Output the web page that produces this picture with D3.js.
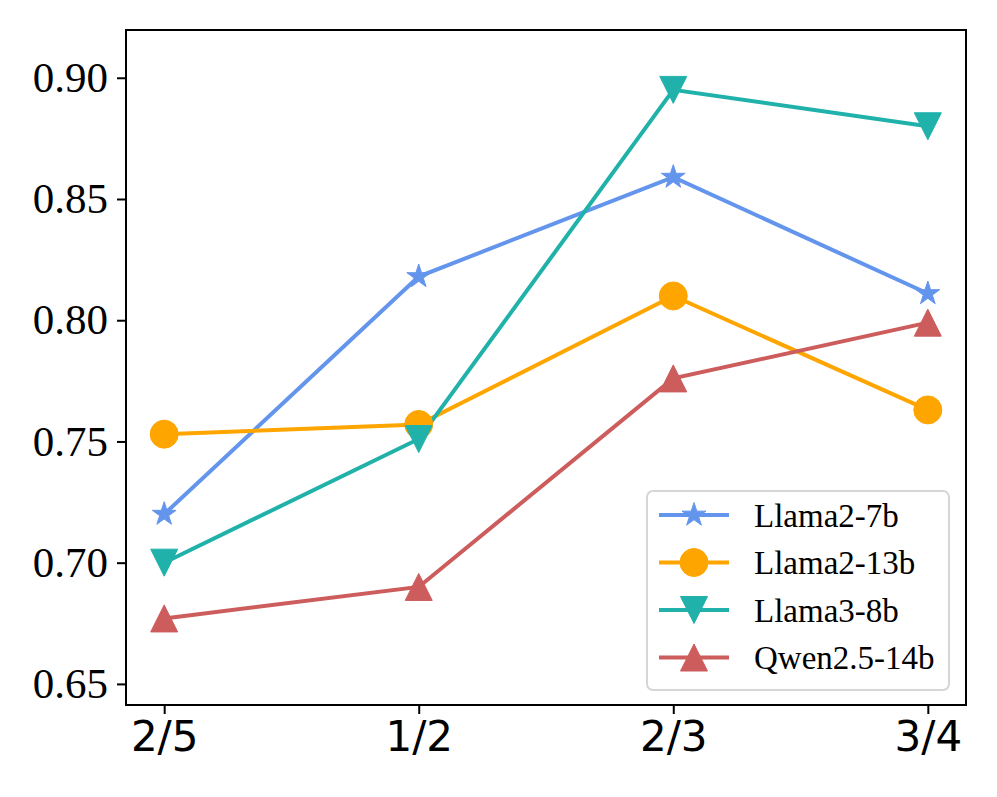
<!DOCTYPE html>
<html>
<head>
<meta charset="utf-8">
<script src="https://cdn.jsdelivr.net/npm/d3@7"></script>
<style>
  body { margin: 0; background: #fff; }
  svg { display: block; }
</style>
</head>
<body>
<svg id="chart" width="997" height="797"></svg>
<script>
// data
const categories = ["2/5", "1/2", "2/3", "3/4"]
const seriesNames = ["Llama2-7b", "Llama2-13b", "Llama3-8b", "Qwen2.5-14b"]
const llama2_7b = [0.720, 0.818, 0.859, 0.811]
const llama2_13b = [0.753, 0.757, 0.810, 0.763]
const llama3_8b = [0.700, 0.751, 0.895, 0.880]
const qwen25_14b = [0.677, 0.690, 0.776, 0.799]
const yTicks = [0.65, 0.70, 0.75, 0.80, 0.85, 0.90]

const colors = ["#6495ED", "#FFA500", "#20B2AA", "#CD5C5C"]
const markers = ["star", "circle", "triDown", "triUp"]
const values = [llama2_7b, llama2_13b, llama3_8b, qwen25_14b]

const series = seriesNames.map((name, i) => ({
    name: name,
    color: colors[i],
    marker: markers[i],
    values: values[i].map((v, j) => ({ key: categories[j], value: v }))
}))

const plot = { left: 126, right: 966, top: 30, bottom: 705 }

const svg = d3.select("#chart")

const xScale = d3.scalePoint()
    .domain(categories)
    .range([plot.left, plot.right])
    .padding(0.15)

const yScale = d3.scaleLinear()
    .domain([0.6413, 0.9197])
    .range([plot.bottom, plot.top])

// marker shapes, roughly matplotlib sized
function markerPath(type) {
    if (type === "circle") {
        return d3.symbol().type(d3.symbolCircle).size(Math.PI * 14 * 14)()
    }
    if (type === "star") {
        let R = 12.5, r = R * 0.382, pts = []
        for (let k = 0; k < 10; k++) {
            let rad = k % 2 === 0 ? R : r
            let a = -Math.PI / 2 + k * Math.PI / 5
            pts.push([rad * Math.cos(a), rad * Math.sin(a)])
        }
        return "M" + pts.map(p => p.join(",")).join("L") + "Z"
    }
    let h = 13.5
    if (type === "triUp") return `M0,${-h}L${h},${h}L${-h},${h}Z`
    return `M0,${h}L${h},${-h}L${-h},${-h}Z`
}

// y axis
const yAxis = svg.append("g")
    .attr("transform", "translate(" + plot.left + ",0)")
    .call(d3.axisLeft(yScale).tickValues(yTicks).tickFormat(d3.format(".2f")).tickSize(9).tickPadding(9))
yAxis.select(".domain").remove()
yAxis.selectAll("line").attr("stroke", "#000").attr("stroke-width", 2)
yAxis.selectAll("text")
    .attr("font-family", "'Liberation Serif', 'Times New Roman', serif")
    .attr("font-size", 43)
    .attr("fill", "#000")

// x axis
const xAxis = svg.append("g")
    .attr("transform", "translate(0," + plot.bottom + ")")
    .call(d3.axisBottom(xScale).tickSize(9).tickPadding(7))
xAxis.select(".domain").remove()
xAxis.selectAll("line").attr("stroke", "#000").attr("stroke-width", 2)
xAxis.selectAll("text")
    .attr("font-family", "'DejaVu Sans', sans-serif")
    .attr("font-size", 42)
    .attr("fill", "#000")

// lines
const lineGenerator = d3.line()
    .x(d => xScale(d.key))
    .y(d => yScale(d.value))

series.forEach(s => {
    svg.append("path")
        .attr("d", lineGenerator(s.values))
        .attr("fill", "none")
        .attr("stroke", s.color)
        .attr("stroke-width", 4)
})

// markers on top
series.forEach(s => {
    svg.selectAll(null)
        .data(s.values)
        .enter()
        .append("path")
        .attr("d", markerPath(s.marker))
        .attr("transform", d => "translate(" + xScale(d.key) + "," + yScale(d.value) + ")")
        .attr("fill", s.color)
        .attr("stroke", s.color)
        .attr("stroke-width", 1)
})

// frame
svg.append("rect")
    .attr("x", plot.left)
    .attr("y", plot.top)
    .attr("width", plot.right - plot.left)
    .attr("height", plot.bottom - plot.top)
    .attr("fill", "none")
    .attr("stroke", "#000")
    .attr("stroke-width", 2)

// legend
const legend = svg.append("g").attr("transform", "translate(647,491)")
legend.append("rect")
    .attr("width", 302)
    .attr("height", 199)
    .attr("rx", 6)
    .attr("fill", "#fff")
    .attr("fill-opacity", 0.8)
    .attr("stroke", "#d6d6d6")
    .attr("stroke-width", 2)

series.forEach((s, i) => {
    let row = legend.append("g").attr("transform", "translate(0," + (24 + i * 47.5) + ")")
    row.append("line")
        .attr("x1", 12).attr("x2", 82)
        .attr("stroke", s.color)
        .attr("stroke-width", 4)
    row.append("path")
        .attr("d", markerPath(s.marker))
        .attr("transform", "translate(47,0)")
        .attr("fill", s.color)
        .attr("stroke", s.color)
    row.append("text")
        .attr("x", 107)
        .attr("dy", "0.35em")
        .attr("font-family", "'Liberation Serif', 'Times New Roman', serif")
        .attr("font-size", 33)
        .attr("fill", "#000")
        .text(s.name)
})
</script>
</body>
</html>
